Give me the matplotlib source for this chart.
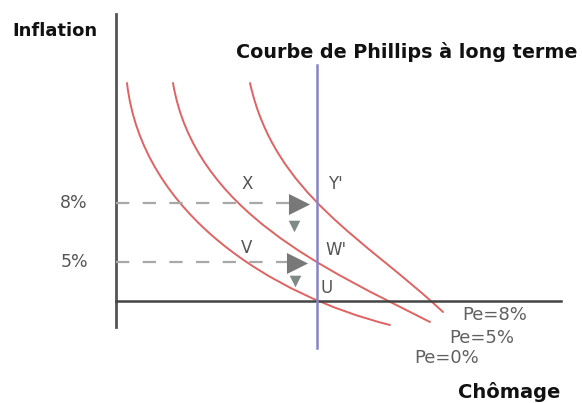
import matplotlib.pyplot as plt
from matplotlib.path import Path
from matplotlib.patches import PathPatch

# Phillips curves as cubic Bezier control points (x = chômage, y = inflation,
# drawing units with y growing downward): start, ctrl1, ctrl2, end
pe0_x = [127, 142.1, 272.2, 390]
pe0_y = [83, 214.6, 295.4, 325]
pe5_x = [173, 194.6, 326.4, 430]
pe5_y = [83, 211.3, 269.5, 322]
pe8_x = [250, 274.6, 365.3, 443]
pe8_y = [83, 194.5, 239.2, 312]

levels = ["8%", "5%"]
level_y = [203, 262]
u_long = 317
u_axis_y = 301

points = ["X", "Y'", "V", "W'", "U"]
point_x = [247, 335, 247, 336, 327]
point_y = [184, 184, 248, 250, 288]

curve_names = ["Pe=8%", "Pe=5%", "Pe=0%"]
curve_lab_x = [495, 482, 447]
curve_lab_y = [315, 338, 358]

right_arr_x = [299, 297]
right_arr_y = [204, 263]
down_arr_x = [294, 295]
down_arr_y = [226, 281]

fig = plt.figure(figsize=(5.82, 4.03), dpi=100)
ax = fig.add_axes([0, 0, 1, 1])
ax.set_xlim(0, 582)
ax.set_ylim(403, 0)
ax.axis("off")

red = "#e06262"
codes = [Path.MOVETO, Path.CURVE4, Path.CURVE4, Path.CURVE4]
for xs, ys in [(pe0_x, pe0_y), (pe5_x, pe5_y), (pe8_x, pe8_y)]:
    path = Path(list(zip(xs, ys)), codes)
    ax.add_patch(PathPatch(path, facecolor="none", edgecolor=red, lw=1.4, capstyle="round"))

# axes
ax.plot([116, 116], [14, 327], color="#555555", lw=2)
ax.plot([116, 561], [u_axis_y, u_axis_y], color="#444444", lw=1.8)
# long run curve
ax.plot([u_long, u_long], [65, 348], color="#8585c8", lw=1.8)

for lab, y in zip(levels, level_y):
    ax.plot([116, 292], [y, y], color="#a8a8a8", lw=1.6, dashes=(6, 6))
    ax.text(74, y, lab, ha="center", va="center", fontsize=12.5, color="#555555",
            fontfamily="DejaVu Sans")

ax.scatter(right_arr_x, right_arr_y, marker=">", s=230, color="#787878", zorder=3, linewidths=0)
ax.scatter(down_arr_x, down_arr_y, marker="v", s=70, color="#7f8a85", zorder=3, linewidths=0)

for lab, x, y in zip(points, point_x, point_y):
    ax.text(x, y, lab, ha="center", va="center", fontsize=12, color="#555555",
            fontfamily="DejaVu Sans")

for lab, x, y in zip(curve_names, curve_lab_x, curve_lab_y):
    ax.text(x, y, lab, ha="center", va="center", fontsize=13, color="#606060",
            fontfamily="DejaVu Sans")

ax.text(55, 31, "Inflation", ha="center", va="center", fontsize=13, fontweight="bold",
        color="#111111", fontfamily="DejaVu Sans")
ax.text(407, 52, "Courbe de Phillips à long terme", ha="center", va="center", fontsize=13.8,
        fontweight="bold", color="#111111", fontfamily="DejaVu Sans")
ax.text(509, 392, "Chômage", ha="center", va="center", fontsize=14, fontweight="bold",
        color="#111111", fontfamily="DejaVu Sans")

fig.savefig("out.png", dpi=100)
